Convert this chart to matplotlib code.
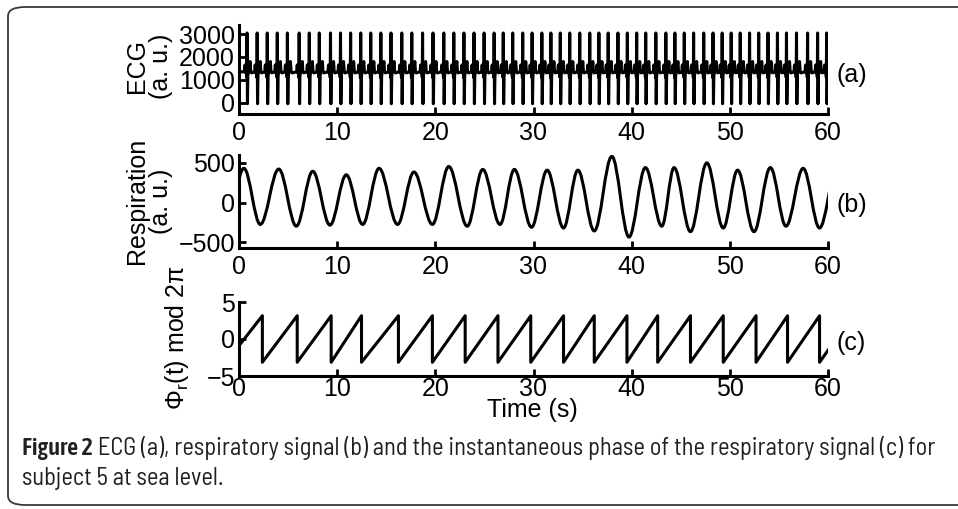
import numpy as np
import matplotlib
matplotlib.use("Agg")
import matplotlib.pyplot as plt
from matplotlib.path import Path
from matplotlib.patches import PathPatch, FancyBboxPatch
from matplotlib import font_manager
from matplotlib.font_manager import FontProperties

# ---------------- data ----------------
time_ticks = [0, 10, 20, 30, 40, 50, 60]
ecg_yticks = [0, 1000, 2000, 3000]
resp_yticks = [-500, 0, 500]
phase_yticks = [-5, 0, 5]

# R-peak times (s)
ecg_r_times = [0.82, 1.85, 2.88, 3.90, 4.93, 6.13, 7.16, 8.18, 9.32, 10.34,
               11.37, 12.40, 13.42, 14.45, 15.48, 16.58, 17.60, 18.70, 19.76,
               20.86, 21.88, 22.91, 23.94, 24.97, 25.99, 26.92, 27.88, 28.90,
               29.86, 30.85, 31.77, 32.73, 33.69, 34.71, 35.73, 36.66, 37.61,
               38.60, 39.56, 40.51, 41.43, 42.46, 43.48, 44.40, 45.36, 46.31,
               47.34, 48.29, 49.22, 50.14, 51.06, 52.01, 52.94, 53.89, 54.85,
               55.77, 56.79, 57.92, 58.94, 59.86]
# one heartbeat shape (offset from R peak in s, value in a.u.)
ecg_beat_offsets = [-0.26, -0.20, -0.14, -0.06, -0.03, 0.0, 0.04, 0.08, 0.14, 0.24, 0.31, 0.38, 0.46]
ecg_beat_values = [1350, 1650, 1300, 1350, 1100, 3050, -50, 1150, 1350, 1500, 1800, 1350, 1300]
ecg_start_value = 1350

# respiration extrema (s, a.u.), alternating trough / peak
resp_ext_t = [-1.25, 0.50, 2.17, 4.05, 5.84, 7.51, 9.27, 10.93, 12.60, 14.27,
              16.15, 17.82, 19.70, 21.37, 23.25, 24.83, 26.59, 28.05, 29.80,
              31.39, 33.06, 34.52, 36.19, 37.98, 39.73, 41.40, 43.07, 44.32,
              45.99, 47.66, 49.33, 50.79, 52.46, 54.13, 55.72, 57.47, 59.14, 60.85]
resp_ext_v = [-280, 432, -273, 423, -295, 395, -282, 350, -273, 432,
              -273, 386, -273, 455, -295, 418, -273, 418, -309,
              409, -318, 409, -355, 582, -432, 441, -295, 441,
              -364, 500, -318, 409, -364, 441, -295, 432, -318, 400]

# phase: value at t=0 and wrap times (s)
phase_start = -0.9
phase_wrap_t = [2.38, 5.93, 9.39, 12.48, 16.24, 19.70, 23.04, 26.38, 29.72,
                33.06, 36.19, 39.52, 42.65, 45.99, 49.33, 52.67, 55.88, 59.14, 62.50]

# ---------------- fonts ----------------
ttf = font_manager.fontManager.ttflist
names = {f.name for f in ttf}
main_font = "Liberation Sans" if "Liberation Sans" in names else "DejaVu Sans"


def find_condensed(bold):
    prefs = ["Open Sans", "Noto Sans", "Roboto", "Liberation Sans", "DejaVu Sans", "Lato", "Inter"]
    cands = []
    for f in ttf:
        nm = f.name
        fn = f.fname.lower()
        is_cond = (str(f.stretch) in ("condensed", "semi-condensed", "extra-condensed")
                   or "condensed" in nm.lower() or "narrow" in nm.lower()
                   or "condensed" in fn or "narrow" in fn)
        if not is_cond:
            continue
        if f.style != "normal":
            continue
        w = f.weight if isinstance(f.weight, int) else (700 if "bold" in str(f.weight) else 400)
        if bold and not (600 <= w <= 800):
            continue
        if not bold and not (350 <= w <= 450):
            continue
        if "semi" in fn and "condensed" in fn:
            rank = 0
        elif "extra" in fn or "ultra" in fn:
            rank = 3
        else:
            rank = 1
        base = 99
        for i, p in enumerate(prefs):
            if nm.startswith(p):
                base = i
                break
        cands.append((rank, base, f.fname))
    if not cands:
        return None
    cands.sort()
    return cands[0][2]


reg_path = find_condensed(False)
bold_path = find_condensed(True)
if reg_path and bold_path:
    cap_reg = FontProperties(fname=reg_path)
    cap_bold = FontProperties(fname=bold_path)
else:
    fam = "Open Sans" if "Open Sans" in names else "DejaVu Sans"
    cap_reg = FontProperties(family=fam)
    cap_bold = FontProperties(family=fam, weight="bold")

plt.rcParams["font.family"] = [main_font, "DejaVu Sans"]
plt.rcParams["mathtext.fontset"] = "custom"
plt.rcParams["mathtext.rm"] = main_font
plt.rcParams["mathtext.it"] = main_font + ":italic"

W, H = 958, 509
fig = plt.figure(figsize=(W / 100, H / 100), dpi=100)


def fx(x):
    return x / W


def fy(y):
    return 1 - y / H


LW = 2.2
FS = 18


def make_axes(x0, x1, y0, y1, xpad=5):
    ax = fig.add_axes([fx(x0), fy(y1), (x1 - x0) / W, (y1 - y0) / H])
    for s in ["top", "right"]:
        ax.spines[s].set_visible(False)
    for s in ["left", "bottom"]:
        ax.spines[s].set_linewidth(2.2)
    ax.tick_params(direction="in", length=5, width=2.0, labelsize=FS, colors="black")
    ax.tick_params(axis="x", pad=xpad)
    ax.tick_params(axis="y", pad=3)
    ax.set_xlim(0, 60)
    ax.set_xticks(time_ticks)
    ax.patch.set_alpha(0)
    return ax


# panel (a) ECG
ax1 = make_axes(239, 828, 25, 114)
ex = [0.0]
ey = [ecg_start_value]
for r in ecg_r_times:
    for o, v in zip(ecg_beat_offsets, ecg_beat_values):
        ex.append(r + o)
        ey.append(v)
ax1.plot(ex, ey, color="black", lw=LW)
ax1.set_ylim(-500, 3400)
ax1.set_yticks(ecg_yticks)

# panel (b) respiration: smooth half-cycles between extrema
ax2 = make_axes(239, 828, 155, 248)
k = 1 - 2 / np.pi
verts = [(resp_ext_t[0], resp_ext_v[0])]
codes = [Path.MOVETO]
for i in range(len(resp_ext_t) - 1):
    t0, v0 = resp_ext_t[i], resp_ext_v[i]
    t1, v1 = resp_ext_t[i + 1], resp_ext_v[i + 1]
    d = t1 - t0
    verts += [(t0 + k * d, v0), (t1 - k * d, v1), (t1, v1)]
    codes += [Path.CURVE4] * 3
ax2.add_patch(PathPatch(Path(verts, codes), fill=False, lw=LW, edgecolor="black"))
ax2.set_ylim(-570, 600)
ax2.set_yticks(resp_yticks)
ax2.set_yticklabels(["\u2212500", "0", "500"])

# panel (c) phase
ax3 = make_axes(239, 828, 302, 376, xpad=1)
px = [0.0]
py = [phase_start]
for w in phase_wrap_t:
    px += [w, w]
    py += [np.pi, -np.pi]
ax3.plot(px, py, color="black", lw=LW)
ax3.set_ylim(-5, 5)
ax3.set_yticks(phase_yticks)
ax3.set_yticklabels(["\u22125", "0", "5"])

# y labels
fig.text(fx(149), fy(66), "ECG\n(a. u.)", rotation=90, ha="center", va="center",
         rotation_mode="anchor", fontsize=FS, linespacing=1.0)
fig.text(fx(149), fy(201), "Respiration\n(a. u.)", rotation=90, ha="center", va="center",
         rotation_mode="anchor", fontsize=FS, linespacing=1.0)
fig.text(fx(177), fy(338), r"$\Phi_{\mathrm{r}}$(t) mod 2π", rotation=90, ha="center",
         va="center", rotation_mode="anchor", fontsize=FS)

# panel tags and x label
fig.text(fx(836), fy(75), "(a)", ha="left", va="center", fontsize=FS)
fig.text(fx(836), fy(205), "(b)", ha="left", va="center", fontsize=FS)
fig.text(fx(836), fy(343), "(c)", ha="left", va="center", fontsize=FS)
fig.text(fx(532), fy(398), "Time (s)", ha="center", va="top", fontsize=FS)

# border
box = FancyBboxPatch((fx(8), fy(505)), fx(980) - fx(8), fy(7) - fy(505),
                     boxstyle="round,pad=0,rounding_size=0.018",
                     transform=fig.transFigure, fill=False, edgecolor="#3a3a3a",
                     lw=1.3, clip_on=False)
fig.patches.append(box)

# caption
cap_color = "#231f20"
fig.canvas.draw()
renderer = fig.canvas.get_renderer()
line1_rest = " ECG (a), respiratory signal (b) and the instantaneous phase of the respiratory signal (c) for"
line2 = "subject 5 at sea level."
cs = 13
t_b = fig.text(fx(22), fy(455), "Figure 2", fontproperties=cap_bold, va="baseline", color=cap_color)
t_r = fig.text(0, fy(455), line1_rest, fontproperties=cap_reg, va="baseline", color=cap_color)
t_b.set_fontsize(cs)
t_r.set_fontsize(cs)
wb = t_b.get_window_extent(renderer).width
wr = t_r.get_window_extent(renderer).width
cs2 = cs * (935 - 22) / (wb + wr)
t_b.set_fontsize(cs2)
t_r.set_fontsize(cs2)
wb = t_b.get_window_extent(renderer).width
t_r.set_position((fx(22 + wb), fy(455)))
t2 = fig.text(fx(22), fy(485), line2, fontproperties=cap_reg, va="baseline", color=cap_color)
t2.set_fontsize(cs2)

fig.savefig("out.png", dpi=100)
